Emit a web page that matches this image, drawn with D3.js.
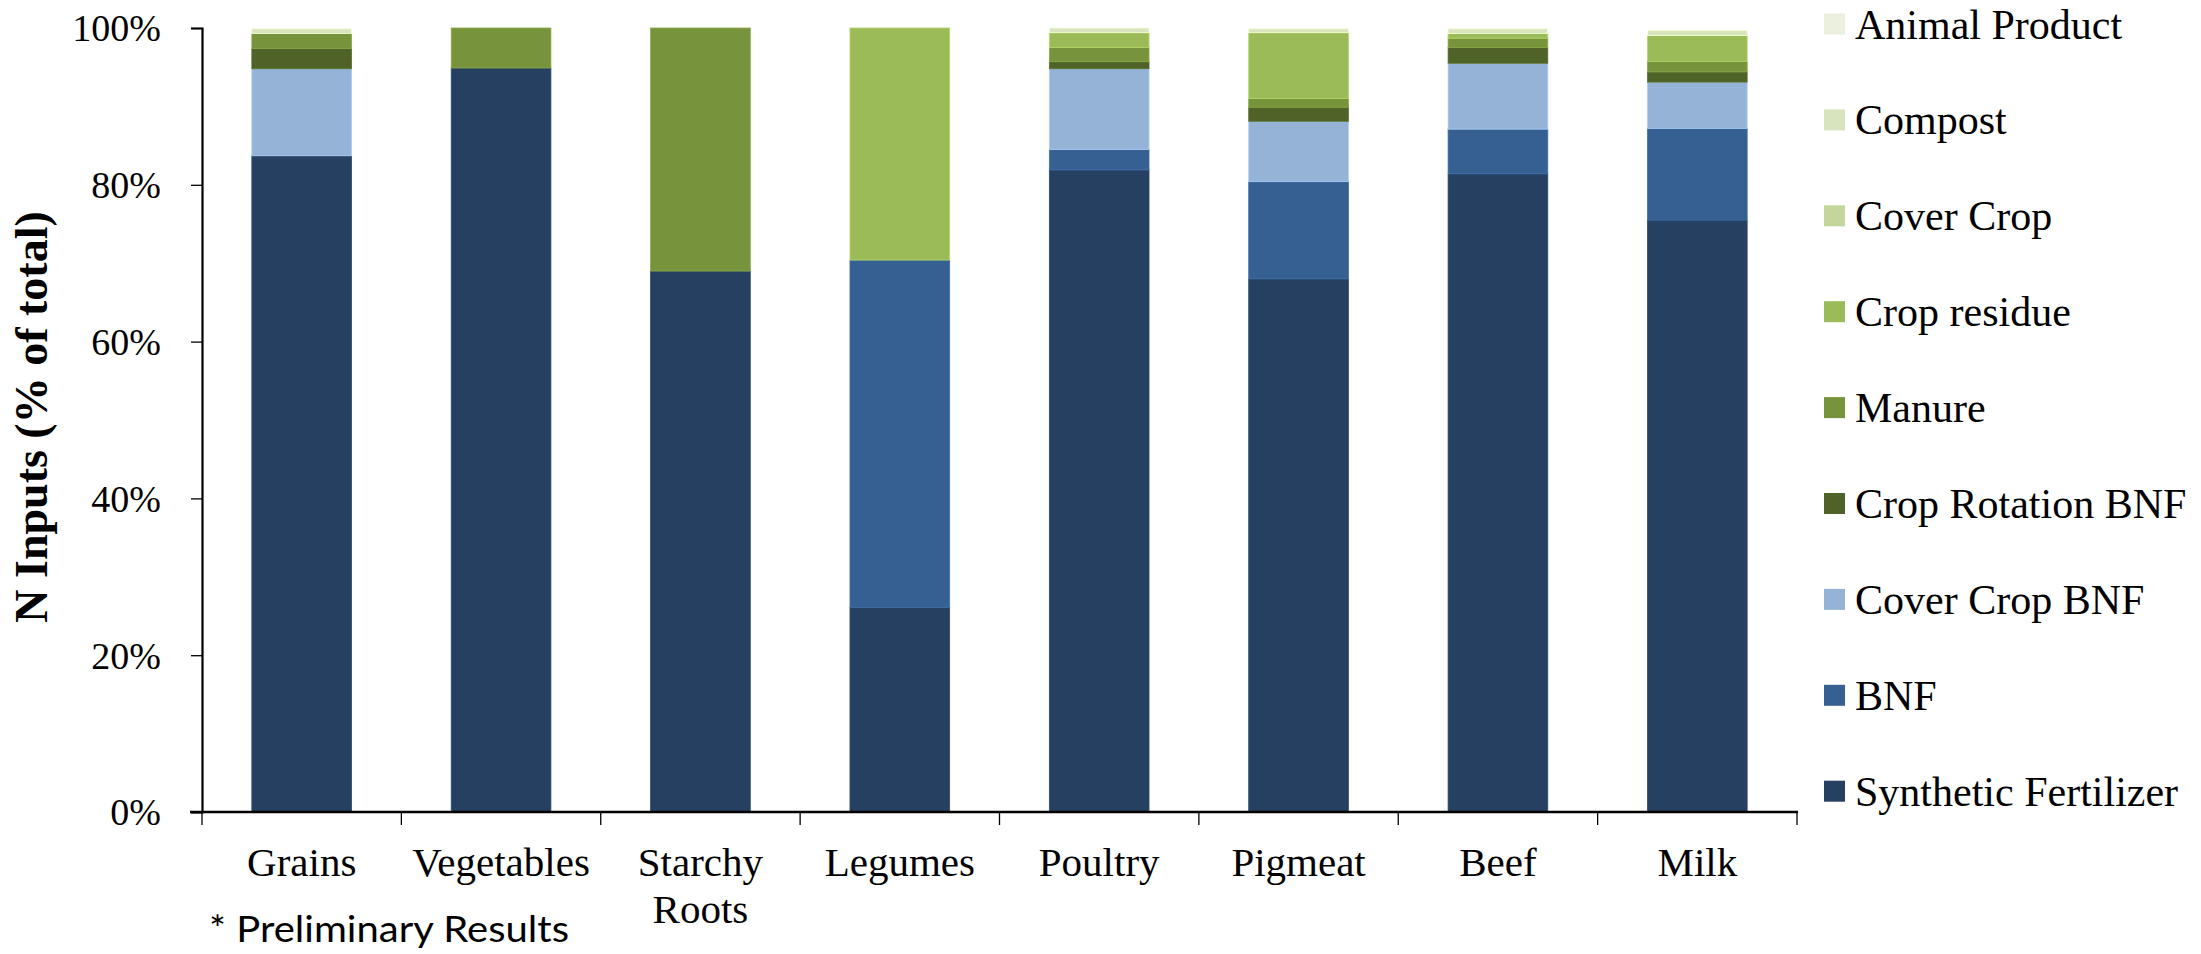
<!DOCTYPE html>
<html>
<head>
<meta charset="utf-8">
<script src="https://cdn.jsdelivr.net/npm/d3@7"></script>
<style>
  html, body { margin: 0; padding: 0; background: #fff; }
  svg { display: block; }
</style>
</head>
<body>
<svg id="chart" width="2201" height="954"></svg>
<script>
// ---------- data ----------
const categories = ["Grains", "Vegetables", "Starchy Roots", "Legumes", "Poultry", "Pigmeat", "Beef", "Milk"];
const categoryLines = [["Grains"], ["Vegetables"], ["Starchy", "Roots"], ["Legumes"], ["Poultry"], ["Pigmeat"], ["Beef"], ["Milk"]];

// stacking order: bottom to top
const seriesNames = ["Synthetic Fertilizer", "BNF", "Cover Crop BNF", "Crop Rotation BNF", "Manure", "Crop residue", "Cover Crop", "Compost", "Animal Product"];
const syntheticFertilizer = [83.7, 94.9, 69.0, 26.1, 81.9, 68.0, 81.4, 75.5];
const bnf                 = [0,    0,    0,    44.3, 2.6,  12.4, 5.7,  11.7];
const coverCropBNF        = [11.1, 0,    0,    0,    10.3, 7.7,  8.4,  5.9];
const cropRotationBNF     = [2.6,  0,    0,    0,    0.9,  1.8,  2.0,  1.3];
const manure              = [1.9,  5.1,  31.0, 0,    1.8,  1.1,  1.2,  1.35];
const cropResidue         = [0,    0,    0,    29.6, 1.9,  8.4,  0.6,  3.3];
const coverCrop           = [0,    0,    0,    0,    0,    0,    0,    0];
const compost             = [0.6,  0,    0,    0,    0.6,  0.5,  0.6,  0.65];
const animalProduct       = [0,    0,    0,    0,    0,    0,    0,    0];
const seriesValues = [syntheticFertilizer, bnf, coverCropBNF, cropRotationBNF, manure, cropResidue, coverCrop, compost, animalProduct];
const seriesColors = ["#264061", "#366092", "#95b3d7", "#4f6228", "#77933c", "#9bbb59", "#c3d69b", "#d7e4bd", "#ebf1de"];

const yTicks = [0, 20, 40, 60, 80, 100];
const yTitle = "N Inputs (% of total)";
const footnote = "* Preliminary Results";

// ---------- layout ----------
const svg = d3.select("#chart");
const plotLeft = 202, plotRight = 1797, plotTop = 28, plotBottom = 812;
const serif = "'Liberation Serif', 'Times New Roman', serif";

const x = d3.scaleBand().domain(categories).range([plotLeft, plotRight]).paddingInner(0.5).paddingOuter(0.25);
const y = d3.scaleLinear().domain([0, 100]).range([plotBottom, plotTop]);
const color = d3.scaleOrdinal().domain(seriesNames).range(seriesColors);

// table for stack
const table = categories.map((c, i) => {
  const row = { category: c };
  seriesNames.forEach((s, j) => row[s] = seriesValues[j][i]);
  return row;
});
const stacked = d3.stack().keys(seriesNames)(table);

// bars
const g = svg.append("g");
stacked.forEach(layer => {
  g.selectAll(null)
    .data(layer.filter(d => d[1] - d[0] > 0))
    .enter().append("rect")
    .attr("x", d => x(d.data.category))
    .attr("width", x.bandwidth())
    .attr("y", d => y(d[1]))
    .attr("height", d => y(d[0]) - y(d[1]))
    .attr("fill", color(layer.key))
    .attr("stroke", d3.color(color(layer.key)).brighter(0.4))
    .attr("stroke-width", 0.8);
});

// y axis
const yAxis = d3.axisLeft(y).tickValues(yTicks).tickFormat(d => d + "%").tickSize(11).tickPadding(30);
const ya = svg.append("g").attr("transform", `translate(${plotLeft},0)`).call(yAxis);
ya.select(".domain").attr("stroke", "#000").attr("stroke-width", 2.2);
ya.selectAll(".tick line").attr("stroke", "#000").attr("stroke-width", 1.3);
ya.selectAll(".tick text").attr("font-family", serif).attr("font-size", 38).attr("fill", "#000").attr("dy", "0.34em");

// x axis line + ticks at band boundaries
const step = x.step();
const boundaries = categories.map(c => x(c) - step * 0.25).concat([x(categories[categories.length - 1]) + x.bandwidth() + step * 0.25]);
svg.append("line").attr("x1", plotLeft - 12).attr("x2", plotRight + 1).attr("y1", plotBottom).attr("y2", plotBottom)
  .attr("stroke", "#000").attr("stroke-width", 2.4);
svg.selectAll(".xtick").data(boundaries).enter().append("line")
  .attr("x1", d => d).attr("x2", d => d).attr("y1", plotBottom).attr("y2", plotBottom + 13)
  .attr("stroke", "#000").attr("stroke-width", 1.3);

// x labels
categories.forEach((c, i) => {
  const cx = x(c) + x.bandwidth() / 2;
  const t = svg.append("text")
    .attr("x", cx)
    .attr("y", 876)
    .attr("text-anchor", "middle")
    .attr("font-family", serif).attr("font-size", 41).attr("fill", "#000");
  categoryLines[i].forEach((ln, k) => {
    t.append("tspan").attr("x", cx).attr("dy", k === 0 ? 0 : 47).text(ln);
  });
});

// y title
svg.append("text")
  .attr("transform", `translate(47,417) rotate(-90)`)
  .attr("text-anchor", "middle")
  .attr("font-family", serif).attr("font-weight", "bold").attr("font-size", 46).attr("fill", "#000")
  .text(yTitle);

// legend (top to bottom reversed order)
const legendItems = seriesNames.slice().reverse();
const lg = svg.append("g");
legendItems.forEach((s, i) => {
  const cy = 24 + i * 95.9;
  lg.append("rect").attr("x", 1824).attr("y", cy - 10.5).attr("width", 21).attr("height", 21).attr("fill", color(s));
  lg.append("text").attr("x", 1855).attr("y", cy + 14.5)
    .attr("font-family", serif).attr("font-size", 42).attr("fill", "#000").text(s);
});

// footnote
svg.append("text").attr("x", 209).attr("y", 942)
  .attr("font-family", "Lato, 'Open Sans', sans-serif").attr("font-size", 37).attr("fill", "#000")
  .attr("textLength", 360).attr("lengthAdjust", "spacingAndGlyphs")
  .text(footnote);
</script>
</body>
</html>
